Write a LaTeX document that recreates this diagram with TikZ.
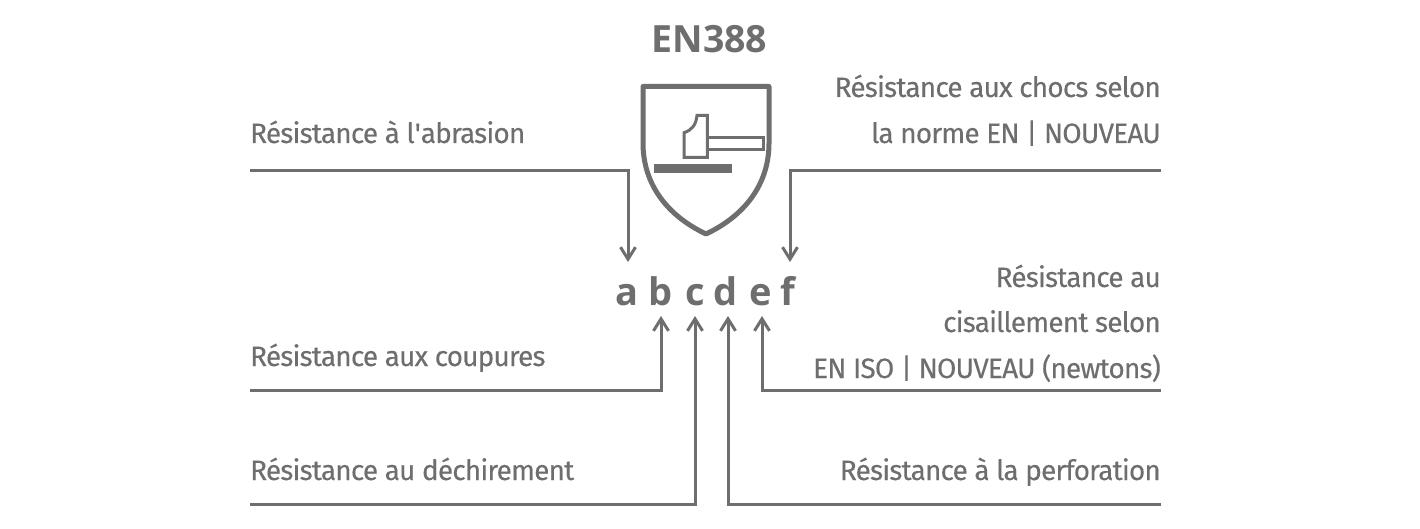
\documentclass[tikz,border=0pt]{standalone}
\usepackage{fontspec}
\setmainfont[LetterSpace=-3,FakeBold=0.12]{Fira Sans}
\newfontfamily\headfont{Open Sans}
\usetikzlibrary{arrows.meta}
\definecolor{ink}{HTML}{6E6E6E}
\tikzset{
  lab/.style={text=ink,inner sep=0pt,font=\fontsize{28}{28}\selectfont},
  labl/.style={lab,anchor=base west},
  labr/.style={lab,anchor=base east},
  letter/.style={text=ink,inner sep=0pt,outer sep=0pt,text height=43pt,text depth=11pt,font=\headfont\bfseries\fontsize{38}{38}\selectfont},
  leader/.style={draw=ink,line width=3pt,-{Straight Barb[length=12pt,width=15pt,line width=3pt]}},
  shieldline/.style={draw=ink,line width=5pt,line join=round},
  hammerline/.style={draw=ink,line width=3pt,line join=miter}
}
\begin{document}
\begin{tikzpicture}[x=1pt,y=-1pt]
\useasboundingbox[fill=white] (0,0) rectangle (1420,529);
\node[text=ink,inner sep=0pt,anchor=base,font=\headfont\bfseries\fontsize{37.5}{37.5}\selectfont] (title) at (709.5,52.5) {EN388};
% shield
\draw[shieldline] (643,86.5) -- (769,86.5) -- (769,143)
  .. controls (769,185) and (744,216) .. (706,234)
  .. controls (668,216) and (643,185) .. (643,143) -- cycle;
\draw[hammerline] (684,157.3) -- (684,132.7) .. controls (692,130) and (696,125) .. (697,115.3)
  -- (707.3,115.3) -- (707.3,157.3) -- cycle;
\draw[hammerline] (707.3,138) -- (763.3,138) -- (763.3,150) -- (707.3,150);
\fill[ink] (654,163.7) rectangle (731.7,173.3);
% letters
\node[letter] (a) at (627,289) {a};
\node[letter] (b) at (661,289) {b};
\node[letter] (c) at (695,289) {c};
\node[letter] (d) at (726,289) {d};
\node[letter] (e) at (761,289) {e};
\node[letter] (f) at (788,289) {f};
% labels
\node[labl] (l1) at (250,143) {Résistance à l\textquotesingle abrasion};
\node[labl] (l2) at (250,366) {Résistance aux coupures};
\node[labl] (l3) at (250,480) {Résistance au déchirement};
\node[labr] (r1a) at (1161,97) {Résistance aux chocs selon};
\node[labr] (r1b) at (1161,143) {la norme EN | NOUVEAU};
\node[labr] (r2a) at (1161,287) {Résistance au};
\node[labr] (r2b) at (1161,332) {cisaillement selon};
\node[labr] (r2c) at (1161,378) {EN ISO | NOUVEAU (newtons)};
\node[labr] (r3) at (1161,480) {Résistance à la perforation};
% leaders
\coordinate (sa) at (250,171);
\coordinate (sf) at (1161,171);
\coordinate (sb) at (250,390);
\coordinate (se) at (1161,390);
\coordinate (sc) at (250,504);
\coordinate (sd) at (1161,504);
\draw[leader] (sa) -| ([xshift=1pt]a.north);
\draw[leader] (sf) -| ([xshift=2pt]f.north);
\draw[leader] (sb) -| (b.south);
\draw[leader] (sc) -| (c.south);
\draw[leader] (sd) -| ([xshift=2pt]d.south);
\draw[leader] (se) -| ([xshift=1pt]e.south);
\end{tikzpicture}
\end{document}
